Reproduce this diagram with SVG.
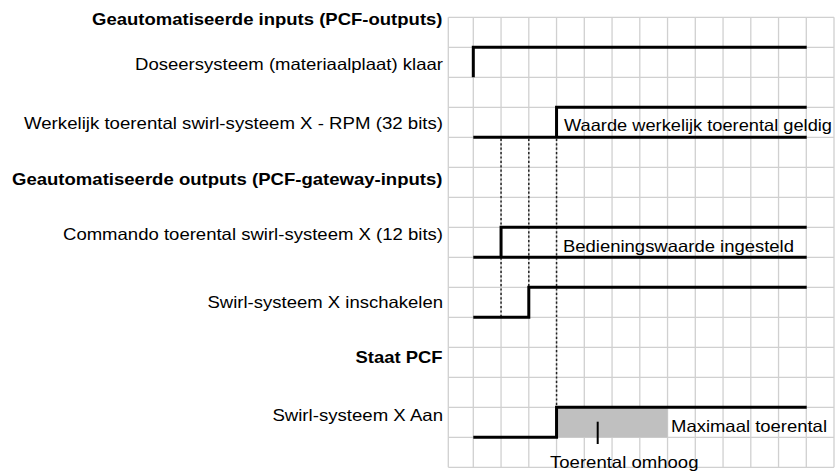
<svg xmlns="http://www.w3.org/2000/svg" width="839" height="476" viewBox="0 0 839 476">
<style>
.grid line{stroke:#d0d0d0;stroke-width:1.3}
.sig{fill:none;stroke:#000;stroke-width:3;stroke-linejoin:miter;stroke-linecap:butt}
.dot{stroke:#222;stroke-width:1.5;stroke-dasharray:2.2,2.2}
text{font-family:"Liberation Sans",Arial,Helvetica,sans-serif;font-size:16.5px;fill:#000}
.lbl{text-anchor:end}
.b{font-weight:bold}
</style>
<rect width="839" height="476" fill="#fff"/>
<g id="grid" class="grid">
<line x1="448.3" y1="17.3" x2="448.3" y2="467.3"/>
<line x1="473.3" y1="17.3" x2="473.3" y2="467.3"/>
<line x1="501.05" y1="17.3" x2="501.05" y2="467.3"/>
<line x1="528.8" y1="17.3" x2="528.8" y2="467.3"/>
<line x1="556.55" y1="17.3" x2="556.55" y2="467.3"/>
<line x1="584.3" y1="17.3" x2="584.3" y2="467.3"/>
<line x1="612.05" y1="17.3" x2="612.05" y2="467.3"/>
<line x1="639.8" y1="17.3" x2="639.8" y2="467.3"/>
<line x1="667.55" y1="17.3" x2="667.55" y2="467.3"/>
<line x1="695.3" y1="17.3" x2="695.3" y2="467.3"/>
<line x1="723.05" y1="17.3" x2="723.05" y2="467.3"/>
<line x1="750.8" y1="17.3" x2="750.8" y2="467.3"/>
<line x1="778.55" y1="17.3" x2="778.55" y2="467.3"/>
<line x1="806.3" y1="17.3" x2="806.3" y2="467.3"/>
<line x1="834" y1="17.3" x2="834" y2="467.3"/>
<line x1="448.3" y1="17.3" x2="834" y2="17.3"/>
<line x1="448.3" y1="47.3" x2="834" y2="47.3"/>
<line x1="448.3" y1="77.3" x2="834" y2="77.3"/>
<line x1="448.3" y1="107.3" x2="834" y2="107.3"/>
<line x1="448.3" y1="137.3" x2="834" y2="137.3"/>
<line x1="448.3" y1="167.3" x2="834" y2="167.3"/>
<line x1="448.3" y1="197.3" x2="834" y2="197.3"/>
<line x1="448.3" y1="227.3" x2="834" y2="227.3"/>
<line x1="448.3" y1="257.3" x2="834" y2="257.3"/>
<line x1="448.3" y1="287.3" x2="834" y2="287.3"/>
<line x1="448.3" y1="317.3" x2="834" y2="317.3"/>
<line x1="448.3" y1="347.3" x2="834" y2="347.3"/>
<line x1="448.3" y1="377.3" x2="834" y2="377.3"/>
<line x1="448.3" y1="407.3" x2="834" y2="407.3"/>
<line x1="448.3" y1="437.3" x2="834" y2="437.3"/>
<line x1="448.3" y1="467.3" x2="834" y2="467.3"/>
</g>
<g id="labels">
<text class="lbl b" x="442.5" y="25" textLength="350.5" lengthAdjust="spacingAndGlyphs">Geautomatiseerde inputs (PCF-outputs)</text>
<text class="lbl" x="443" y="70" textLength="308" lengthAdjust="spacingAndGlyphs">Doseersysteem (materiaalplaat) klaar</text>
<text class="lbl" x="443" y="128.5" textLength="419" lengthAdjust="spacingAndGlyphs">Werkelijk toerental swirl-systeem X - RPM (32 bits)</text>
<text class="lbl b" x="442.5" y="185" textLength="430.5" lengthAdjust="spacingAndGlyphs">Geautomatiseerde outputs (PCF-gateway-inputs)</text>
<text class="lbl" x="443" y="239.5" textLength="380" lengthAdjust="spacingAndGlyphs">Commando toerental swirl-systeem X (12 bits)</text>
<text class="lbl" x="443" y="308" textLength="235.5" lengthAdjust="spacingAndGlyphs">Swirl-systeem X inschakelen</text>
<text class="lbl b" x="442.5" y="363" textLength="87" lengthAdjust="spacingAndGlyphs">Staat PCF</text>
<text class="lbl" x="443" y="420.5" textLength="170.6" lengthAdjust="spacingAndGlyphs">Swirl-systeem X Aan</text>
</g>
<rect id="ramp-fill" x="556.55" y="407.3" width="111" height="30" fill="#c0c0c0"/>
<g id="connectors">
<line class="dot" x1="501.05" y1="138.8" x2="501.05" y2="317.3"/>
<line class="dot" x1="528.8" y1="138.8" x2="528.8" y2="317.3"/>
<line class="dot" x1="556.55" y1="138.8" x2="556.55" y2="407.3"/>
<line x1="597.7" y1="421.7" x2="597.7" y2="444" stroke="#000" stroke-width="2"/>
</g>
<g id="sig-dosering">
<path class="sig" d="M473.3,77.3 V47.3 H806.7"/>
</g>
<g id="sig-werkelijk">
<path class="sig" d="M473.3,137.3 H806.7 M556.55,137.3 V107.3 H806.7"/>
<text x="564" y="130.5" textLength="268" lengthAdjust="spacingAndGlyphs">Waarde werkelijk toerental geldig</text>
</g>
<g id="sig-commando">
<path class="sig" d="M473.3,257.3 H806.7 M501.05,257.3 V227.3 H806.7"/>
<text x="563" y="251.5" textLength="231" lengthAdjust="spacingAndGlyphs">Bedieningswaarde ingesteld</text>
</g>
<g id="sig-inschakelen">
<path class="sig" d="M473.3,317.3 H528.8 V287.3 H806.7"/>
</g>
<g id="sig-aan">
<path class="sig" d="M473.3,437.3 H556.55 V407.3 H806.7"/>
<text x="671" y="431.5" textLength="156" lengthAdjust="spacingAndGlyphs">Maximaal toerental</text>
<text x="550" y="468" textLength="148.5" lengthAdjust="spacingAndGlyphs">Toerental omhoog</text>
</g>
</svg>
